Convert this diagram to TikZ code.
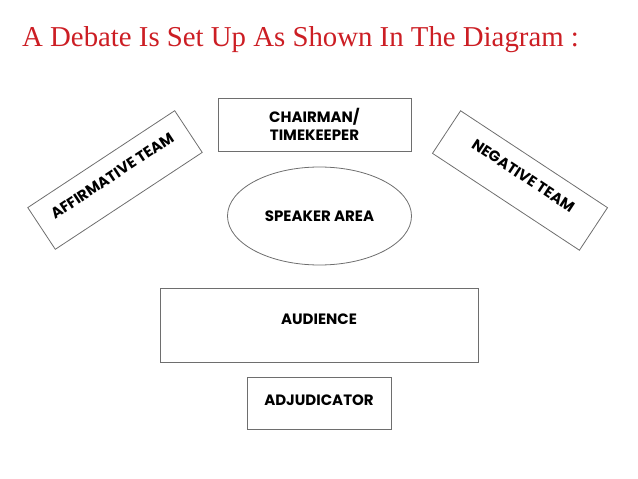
\documentclass[tikz,border=0pt]{standalone}
\usepackage{fontspec}
\setmainfont{Liberation Serif}
\newfontfamily\boxfont{Poppins}
\usepackage{xcolor}
\usetikzlibrary{shapes,positioning}

\definecolor{titlered}{RGB}{204,30,36}
\definecolor{edgegray}{RGB}{110,110,110}

\begin{document}
\begin{tikzpicture}[x=1pt,y=-1pt,
    box/.style={draw=edgegray, line width=0.8pt, rectangle, inner sep=0pt, align=center,
        font=\boxfont\bfseries\fontsize{15}{18}\selectfont}]
    \useasboundingbox (0,0) rectangle (638,479);

    % Title
    \node[anchor=base west, text=titlered, font=\fontsize{28.8}{32}\selectfont, inner sep=0pt] (title) at (22,46) {A Debate Is Set Up As Shown In The Diagram :};

    % Chairman and speaker area
    \node[box, minimum width=193pt, minimum height=53pt] (chair) at (314.5,124.5) {CHAIRMAN/\\TIMEKEEPER};
    \node[box, ellipse, minimum width=184pt, minimum height=98pt] (speaker) at (319.5,216) {SPEAKER AREA};

    % Teams
    \node[box, rotate=33.4, minimum width=176pt, minimum height=50pt, text depth=10pt] (affirm) at (115,180) {AFFIRMATIVE TEAM};
    \node[box, rotate=-33.4, minimum width=176pt, minimum height=51pt, text depth=12pt] (negative) at (520,180.5) {NEGATIVE TEAM};

    % Audience and adjudicator
    \node[box, minimum width=318pt, minimum height=74pt, text depth=12pt] (audience) at (319,325) {AUDIENCE};
    \node[box, minimum width=144pt, minimum height=52pt, text depth=6pt] (adjud) at (319,403) {ADJUDICATOR};
\end{tikzpicture}
\end{document}
